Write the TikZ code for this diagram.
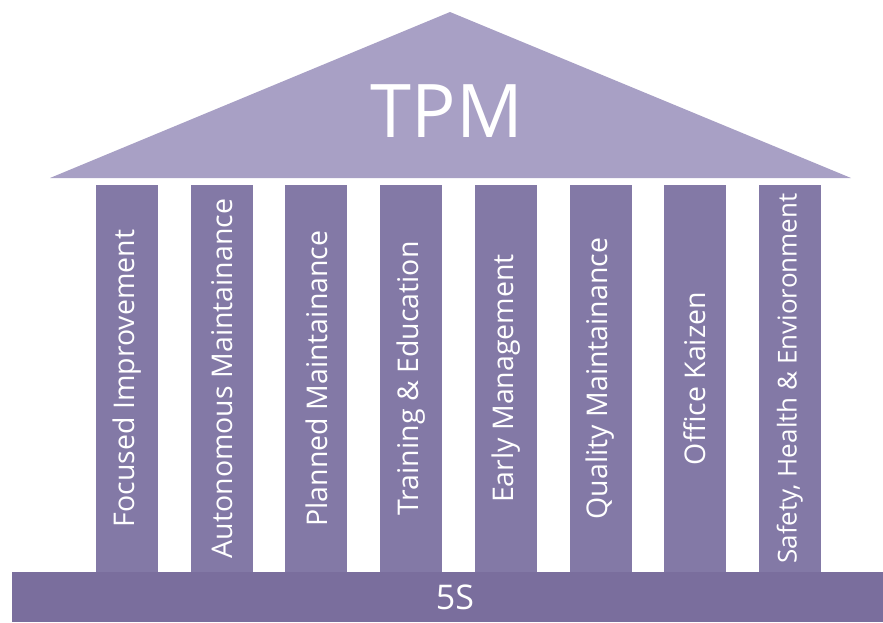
\documentclass[tikz,border=0pt]{standalone}
\usepackage{fontspec}
\usepackage{graphicx}
\setmainfont{Open Sans}
\usetikzlibrary{positioning}
\definecolor{roofcol}{HTML}{A8A0C5}
\definecolor{pillarcol}{HTML}{8379A6}
\definecolor{basecol}{HTML}{7A6E9D}

\begin{document}
\begin{tikzpicture}[x=1pt, y=-1pt, node distance=32.3pt]

    % Define block styles
    \tikzstyle{pillar} = [fill=pillarcol, text=white, minimum width=62pt, minimum height=387pt, inner sep=0pt, font=\fontsize{28.5}{32}\selectfont]
    \tikzstyle{base} = [fill=basecol, minimum width=871pt, minimum height=50pt, inner sep=0pt]
    \tikzstyle{basetext} = [text=white, inner sep=0pt, font=\fontsize{34}{38}\selectfont]
    \tikzstyle{title} = [text=white, inner sep=0pt, font=\fontsize{74}{84}\selectfont]

    \useasboundingbox (0,0) rectangle (883,622);

    % Roof
    \coordinate (roofL) at (50,178);
    \coordinate (roofR) at (851,178);
    \coordinate (apex) at (450,12);
    \fill[roofcol] (roofL) -- (apex) -- (roofR) -- cycle;
    \node[title] (tpm) at (447,111) {TPM};

    % Pillars
    \node[pillar] (p1) at (127,378.5) {\rotatebox{90}{Focused Improvement}};
    \node[pillar, right=of p1] (p2) {\rotatebox{90}{Autonomous Maintainance}};
    \node[pillar, right=of p2] (p3) {\rotatebox{90}{Planned Maintainance}};
    \node[pillar, right=of p3] (p4) {\rotatebox{90}{Training \& Education}};
    \node[pillar, right=of p4] (p5) {\rotatebox{90}{Early Management}};
    \node[pillar, right=of p5] (p6) {\rotatebox{90}{Quality Maintainance}};
    \node[pillar, right=of p6] (p7) {\rotatebox{90}{Office Kaizen}};
    \node[pillar, right=of p7, font=\fontsize{26}{30}\selectfont] (p8) {\rotatebox{90}{Safety, Health \& Envioronment}};

    % Base
    \node[base] (base) at (447.5,597) {};
    \node[basetext] (fiveS) at ([xshift=7.5pt]base.center) {5S};

\end{tikzpicture}
\end{document}
